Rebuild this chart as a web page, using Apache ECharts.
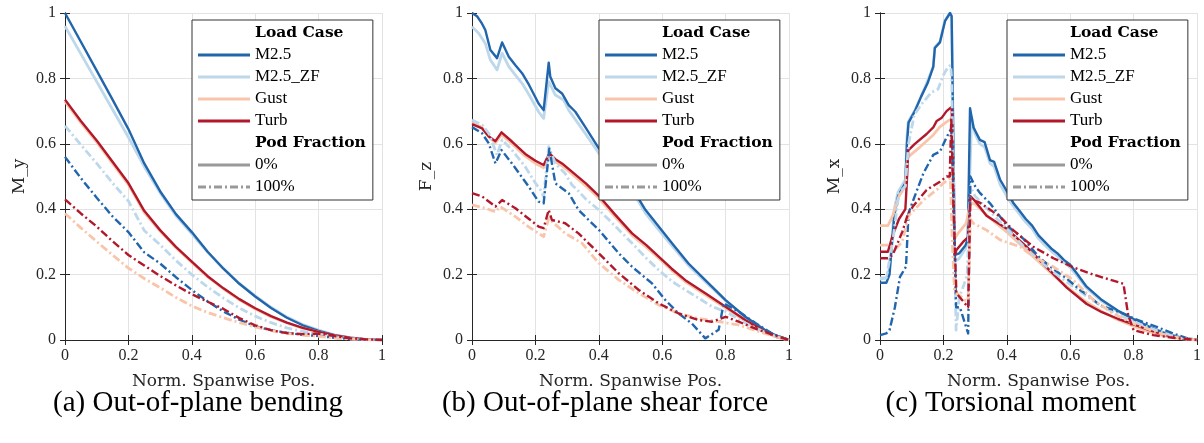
<!DOCTYPE html>
<html><head><meta charset="utf-8">
<script src="https://cdn.jsdelivr.net/npm/echarts@6/dist/echarts.min.js"></script>
<style>html,body{margin:0;padding:0;background:#fff}#c{width:1204px;height:443px}</style>
</head><body><div id="c"></div>
<script>
// ---------- data ----------
const loadCases = ['M2.5', 'M2.5_ZF', 'Gust', 'Turb'];
const podFractions = ['0%', '100%'];
const yNames = ['M_y', 'F_z', 'M_x'];
const xName = 'Norm. Spanwise Pos.';
const captions = ['(a) Out-of-plane bending', '(b) Out-of-plane shear force', '(c) Torsional moment'];

// panel (a): common x grid
const xsA = [0,0.05,0.1,0.15,0.2,0.25,0.3,0.35,0.4,0.45,0.5,0.55,0.6,0.65,0.7,0.75,0.8,0.85,0.9,0.95,1];
const a_M25_0   = [1.0,0.912,0.824,0.735,0.645,0.54,0.455,0.385,0.33,0.27,0.218,0.172,0.133,0.098,0.068,0.045,0.028,0.015,0.007,0.002,0];
const a_M25ZF_0 = [0.96,0.875,0.79,0.705,0.62,0.53,0.45,0.38,0.325,0.268,0.218,0.173,0.135,0.1,0.07,0.047,0.03,0.016,0.007,0.002,0];
const a_Gust_0  = [0.73,0.665,0.605,0.54,0.475,0.39,0.333,0.282,0.237,0.193,0.156,0.123,0.095,0.071,0.052,0.036,0.024,0.013,0.006,0.002,0];
const a_Turb_0  = [0.735,0.67,0.61,0.545,0.48,0.395,0.336,0.285,0.24,0.195,0.158,0.125,0.097,0.073,0.053,0.037,0.025,0.014,0.006,0.002,0];
const a_M25_100   = [0.56,0.495,0.435,0.378,0.33,0.268,0.234,0.192,0.153,0.118,0.087,0.062,0.042,0.03,0.022,0.016,0.012,0.007,0.003,0.001,0];
const a_M25ZF_100 = [0.655,0.597,0.54,0.48,0.425,0.335,0.291,0.243,0.2,0.162,0.128,0.098,0.073,0.053,0.037,0.026,0.018,0.01,0.004,0.001,0];
const a_Gust_100  = [0.387,0.343,0.301,0.26,0.22,0.188,0.16,0.13,0.104,0.084,0.068,0.053,0.04,0.029,0.02,0.015,0.011,0.006,0.003,0.001,0];
const a_Turb_100  = [0.43,0.387,0.347,0.302,0.26,0.228,0.196,0.167,0.14,0.117,0.095,0.067,0.045,0.03,0.021,0.018,0.02,0.012,0.005,0.002,0];

// panel (b): [x, y] pairs
const b_M25_0 = [[0,1.0],[0.016,0.99],[0.03,0.97],[0.042,0.948],[0.058,0.887],[0.079,0.862],[0.095,0.91],[0.116,0.866],[0.137,0.84],[0.158,0.816],[0.18,0.78],[0.21,0.723],[0.226,0.703],[0.242,0.848],[0.247,0.805],[0.263,0.77],[0.284,0.754],[0.305,0.718],[0.326,0.698],[0.357,0.652],[0.4,0.586],[0.45,0.525],[0.515,0.449],[0.547,0.398],[0.589,0.347],[0.631,0.296],[0.683,0.234],[0.736,0.183],[0.8,0.122],[0.862,0.071],[0.925,0.03],[0.96,0.013],[1,0]];
const b_M25ZF_0 = [[0,0.958],[0.021,0.938],[0.042,0.907],[0.058,0.856],[0.079,0.826],[0.095,0.877],[0.116,0.836],[0.137,0.81],[0.158,0.785],[0.18,0.75],[0.21,0.698],[0.226,0.678],[0.242,0.79],[0.263,0.749],[0.289,0.734],[0.305,0.703],[0.357,0.632],[0.4,0.571],[0.45,0.512],[0.515,0.44],[0.547,0.388],[0.589,0.337],[0.631,0.288],[0.683,0.228],[0.736,0.178],[0.8,0.12],[0.862,0.07],[0.925,0.03],[0.96,0.013],[1,0]];
const b_Gust_0 = [[0,0.665],[0.032,0.65],[0.053,0.622],[0.074,0.603],[0.093,0.628],[0.126,0.6],[0.168,0.562],[0.2,0.54],[0.226,0.527],[0.244,0.563],[0.263,0.545],[0.284,0.533],[0.315,0.508],[0.36,0.47],[0.4,0.434],[0.45,0.378],[0.505,0.32],[0.55,0.284],[0.589,0.25],[0.63,0.213],[0.673,0.178],[0.736,0.138],[0.8,0.098],[0.862,0.058],[0.925,0.023],[0.96,0.009],[1,0]];
const b_Turb_0 = [[0,0.66],[0.032,0.647],[0.053,0.622],[0.074,0.608],[0.093,0.635],[0.126,0.607],[0.168,0.569],[0.2,0.548],[0.226,0.535],[0.244,0.571],[0.263,0.553],[0.284,0.54],[0.315,0.515],[0.36,0.478],[0.4,0.441],[0.45,0.385],[0.505,0.326],[0.55,0.29],[0.589,0.255],[0.63,0.218],[0.673,0.183],[0.736,0.143],[0.8,0.102],[0.862,0.061],[0.925,0.025],[0.96,0.01],[1,0]];
const b_M25_100 = [[0,0.651],[0.032,0.632],[0.053,0.601],[0.074,0.54],[0.093,0.581],[0.126,0.54],[0.179,0.469],[0.21,0.423],[0.226,0.418],[0.244,0.585],[0.263,0.479],[0.305,0.449],[0.336,0.398],[0.37,0.365],[0.4,0.337],[0.463,0.265],[0.505,0.224],[0.568,0.173],[0.61,0.122],[0.652,0.081],[0.694,0.05],[0.736,0.005],[0.778,0.031],[0.794,0.112],[0.841,0.087],[0.894,0.052],[0.946,0.02],[1,0]];
const b_M25ZF_100 = [[0,0.673],[0.032,0.657],[0.053,0.632],[0.079,0.566],[0.095,0.612],[0.126,0.581],[0.168,0.53],[0.2,0.48],[0.216,0.459],[0.226,0.438],[0.242,0.591],[0.263,0.54],[0.294,0.509],[0.315,0.475],[0.336,0.455],[0.36,0.43],[0.4,0.398],[0.45,0.35],[0.505,0.296],[0.55,0.25],[0.589,0.214],[0.63,0.18],[0.673,0.153],[0.72,0.125],[0.757,0.102],[0.8,0.087],[0.862,0.052],[0.925,0.023],[0.96,0.01],[1,0]];
const b_Gust_100 = [[0,0.413],[0.042,0.403],[0.074,0.392],[0.089,0.408],[0.137,0.377],[0.18,0.345],[0.21,0.326],[0.226,0.316],[0.242,0.372],[0.294,0.326],[0.347,0.296],[0.4,0.235],[0.463,0.184],[0.526,0.143],[0.589,0.107],[0.652,0.081],[0.715,0.066],[0.778,0.056],[0.841,0.046],[0.904,0.026],[0.967,0.008],[1,0]];
const b_Turb_100 = [[0,0.449],[0.032,0.439],[0.074,0.408],[0.095,0.428],[0.137,0.403],[0.18,0.37],[0.21,0.347],[0.226,0.342],[0.242,0.398],[0.252,0.367],[0.294,0.357],[0.336,0.326],[0.4,0.265],[0.463,0.204],[0.526,0.153],[0.589,0.112],[0.652,0.081],[0.715,0.061],[0.757,0.056],[0.8,0.071],[0.841,0.056],[0.904,0.031],[0.967,0.01],[1,0]];

// panel (c): [x, y] pairs
const c_M25_0 = [[0,0.175],[0.02,0.175],[0.03,0.2],[0.045,0.38],[0.057,0.44],[0.08,0.48],[0.085,0.6],[0.09,0.665],[0.11,0.7],[0.13,0.745],[0.15,0.785],[0.168,0.835],[0.173,0.893],[0.189,0.91],[0.205,0.975],[0.221,1.0],[0.226,0.99],[0.236,0.26],[0.25,0.265],[0.27,0.29],[0.277,0.31],[0.284,0.709],[0.295,0.65],[0.315,0.612],[0.33,0.605],[0.347,0.55],[0.36,0.545],[0.379,0.49],[0.4,0.455],[0.42,0.42],[0.44,0.395],[0.46,0.37],[0.48,0.35],[0.5,0.32],[0.52,0.3],[0.54,0.28],[0.56,0.265],[0.58,0.245],[0.6,0.23],[0.62,0.205],[0.65,0.165],[0.7,0.122],[0.75,0.09],[0.8,0.064],[0.85,0.04],[0.9,0.02],[0.95,0.007],[1,0]];
const c_M25ZF_0 = [[0,0.19],[0.02,0.19],[0.03,0.22],[0.045,0.4],[0.057,0.453],[0.08,0.49],[0.085,0.62],[0.089,0.667],[0.11,0.703],[0.13,0.745],[0.147,0.785],[0.168,0.836],[0.173,0.896],[0.189,0.912],[0.205,0.978],[0.221,1.0],[0.226,0.99],[0.236,0.24],[0.25,0.25],[0.27,0.28],[0.277,0.3],[0.289,0.68],[0.3,0.63],[0.315,0.6],[0.33,0.59],[0.347,0.54],[0.36,0.53],[0.379,0.475],[0.4,0.44],[0.42,0.41],[0.44,0.385],[0.46,0.36],[0.48,0.34],[0.5,0.31],[0.52,0.29],[0.54,0.272],[0.56,0.256],[0.58,0.237],[0.6,0.222],[0.62,0.198],[0.65,0.16],[0.7,0.118],[0.75,0.087],[0.8,0.062],[0.85,0.04],[0.9,0.02],[0.95,0.007],[1,0]];
const c_Gust_0 = [[0,0.35],[0.025,0.35],[0.04,0.38],[0.06,0.44],[0.08,0.47],[0.085,0.54],[0.089,0.56],[0.126,0.59],[0.168,0.627],[0.189,0.652],[0.21,0.667],[0.226,0.677],[0.236,0.31],[0.246,0.326],[0.272,0.357],[0.285,0.42],[0.3,0.415],[0.35,0.37],[0.4,0.33],[0.45,0.285],[0.5,0.24],[0.55,0.195],[0.6,0.155],[0.65,0.117],[0.7,0.087],[0.75,0.062],[0.8,0.042],[0.85,0.025],[0.9,0.012],[0.95,0.004],[1,0]];
const c_Turb_0 = [[0,0.27],[0.025,0.27],[0.04,0.32],[0.06,0.37],[0.08,0.4],[0.085,0.49],[0.089,0.58],[0.11,0.6],[0.147,0.63],[0.168,0.65],[0.179,0.67],[0.195,0.68],[0.21,0.7],[0.226,0.713],[0.236,0.26],[0.241,0.275],[0.262,0.3],[0.278,0.315],[0.285,0.44],[0.3,0.425],[0.336,0.38],[0.4,0.34],[0.463,0.285],[0.526,0.222],[0.589,0.16],[0.652,0.11],[0.7,0.085],[0.75,0.065],[0.8,0.048],[0.85,0.03],[0.9,0.015],[0.95,0.005],[1,0]];
const c_M25_100 = [[0,0.015],[0.02,0.02],[0.03,0.03],[0.047,0.1],[0.063,0.193],[0.082,0.224],[0.09,0.388],[0.105,0.428],[0.137,0.51],[0.168,0.566],[0.189,0.576],[0.21,0.62],[0.224,0.645],[0.228,0.6],[0.24,0.1],[0.252,0.1],[0.278,0.02],[0.285,0.5],[0.3,0.47],[0.315,0.45],[0.347,0.418],[0.4,0.35],[0.452,0.31],[0.505,0.25],[0.55,0.215],[0.589,0.188],[0.631,0.153],[0.663,0.132],[0.694,0.106],[0.768,0.081],[0.8,0.066],[0.873,0.04],[0.925,0.02],[0.97,0.005],[1,0]];
const c_M25ZF_100 = [[0,0.185],[0.02,0.19],[0.04,0.3],[0.06,0.45],[0.08,0.47],[0.09,0.6],[0.108,0.688],[0.13,0.72],[0.162,0.757],[0.183,0.767],[0.2,0.81],[0.215,0.836],[0.223,0.84],[0.226,0.8],[0.24,0.03],[0.25,0.13],[0.265,0.17],[0.275,0.2],[0.285,0.47],[0.3,0.44],[0.35,0.39],[0.4,0.34],[0.45,0.29],[0.5,0.245],[0.55,0.205],[0.6,0.17],[0.65,0.135],[0.7,0.103],[0.75,0.078],[0.8,0.057],[0.85,0.037],[0.9,0.02],[0.95,0.007],[1,0]];
const c_Gust_100 = [[0,0.29],[0.03,0.29],[0.05,0.28],[0.07,0.3],[0.09,0.38],[0.1,0.39],[0.14,0.43],[0.18,0.46],[0.2,0.48],[0.222,0.495],[0.228,0.3],[0.235,0.15],[0.27,0.12],[0.278,0.12],[0.285,0.37],[0.294,0.357],[0.336,0.336],[0.379,0.306],[0.442,0.285],[0.484,0.255],[0.547,0.224],[0.61,0.183],[0.673,0.122],[0.736,0.081],[0.8,0.05],[0.883,0.02],[0.95,0.005],[1,0]];
const c_Turb_100 = [[0,0.25],[0.025,0.25],[0.04,0.26],[0.07,0.33],[0.088,0.385],[0.105,0.41],[0.147,0.459],[0.189,0.484],[0.21,0.5],[0.22,0.5],[0.225,0.68],[0.232,0.4],[0.241,0.143],[0.272,0.107],[0.278,0.1],[0.285,0.43],[0.315,0.42],[0.379,0.377],[0.42,0.336],[0.484,0.285],[0.547,0.25],[0.61,0.222],[0.673,0.2],[0.768,0.172],[0.783,0.075],[0.8,0.03],[0.862,0.015],[0.93,0.006],[1,0]];

// ---------- styling ----------
const COLORS = {'M2.5':'#2166ac','M2.5_ZF':'#bdd8eb','Gust':'#f9c5aa','Turb':'#b2182b','0%':'#999999','100%':'#999999'};
const WIDTHS = {'M2.5':2.4,'M2.5_ZF':2.8,'Gust':2.8,'Turb':2.4,'0%':2.8,'100%':2.8};
const DASH = [8,3,2,3];
const SERIF = '"Liberation Serif", "Times New Roman", serif';
const DSERIF = '"DejaVu Serif", serif';
const AX = '#262626';

const zipA = ys => xsA.map((x, i) => [x, ys[i]]);
const panels = [
  {'0%': {'M2.5':zipA(a_M25_0),'M2.5_ZF':zipA(a_M25ZF_0),'Gust':zipA(a_Gust_0),'Turb':zipA(a_Turb_0)},
   '100%': {'M2.5':zipA(a_M25_100),'M2.5_ZF':zipA(a_M25ZF_100),'Gust':zipA(a_Gust_100),'Turb':zipA(a_Turb_100)}},
  {'0%': {'M2.5':b_M25_0,'M2.5_ZF':b_M25ZF_0,'Gust':b_Gust_0,'Turb':b_Turb_0},
   '100%': {'M2.5':b_M25_100,'M2.5_ZF':b_M25ZF_100,'Gust':b_Gust_100,'Turb':b_Turb_100}},
  {'0%': {'M2.5':c_M25_0,'M2.5_ZF':c_M25ZF_0,'Gust':c_Gust_0,'Turb':c_Turb_0},
   '100%': {'M2.5':c_M25_100,'M2.5_ZF':c_M25ZF_100,'Gust':c_Gust_100,'Turb':c_Turb_100}}
];

const gridLefts = [65, 472, 880];
const gridW = 317, gridTop = 13, gridH = 327;

const grids = [], xAxes = [], yAxes = [], series = [], legends = [], graphics = [];
const drawOrder = ['M2.5_ZF','M2.5','Gust','Turb'];

function mkSeries(name, data, p, dashed) {
  return {
    type:'line', name, data, xAxisIndex:p*2, yAxisIndex:p*2,
    symbol:'none', showSymbol:false, silent:true, animation:false, clip:true,
    lineStyle:{color:COLORS[name], width:WIDTHS[name], type: dashed ? DASH : 'solid', cap:'butt', join:'round'},
    itemStyle:{color:COLORS[name]}
  };
}

// dummy series so legend entries exist
['Load Case','Pod Fraction'].forEach(n => series.push({type:'line', name:n, data:[], xAxisIndex:0, yAxisIndex:0, symbol:'none'}));
series.push(mkSeries('0%', [], 0, false));
series.push(mkSeries('100%', [], 0, true));
panels.forEach((pd, p) => {
  drawOrder.forEach(n => series.push(mkSeries(n, pd['0%'][n], p, false)));
});
panels.forEach((pd, p) => {
  drawOrder.forEach(n => series.push(mkSeries(n, pd['100%'][n], p, true)));
});

const labelStyle = {color:AX, fontFamily:SERIF, fontSize:16};
const lineS = {show:true, lineStyle:{color:AX, width:1}};
const tickS = {show:true, inside:true, length:5, lineStyle:{color:AX, width:1}};

// legend key entries (name, dashed?) in row order
const legendRows = [['Load Case',null], ['M2.5',false], ['M2.5_ZF',false], ['Gust',false], ['Turb',false], ['Pod Fraction',null], ['0%',false], ['100%',true]];
const LEG_TOP = 20, LEG_PAD_T = 4, LEG_PAD_L = 6, ROW = 22, ITEM_W = 52;

panels.forEach((pd, p) => {
  grids.push({left:gridLefts[p], top:gridTop, width:gridW, height:gridH, containLabel:false});
  xAxes.push({type:'value', gridIndex:p, min:0, max:1, interval:0.2, position:'bottom',
    axisLine:lineS, axisTick:tickS,
    axisLabel:{...labelStyle, margin:8, formatter: v => String(+v.toFixed(1))},
    splitLine:{show:true, lineStyle:{color:'#e3e3e3', width:1}},
    name:xName, nameLocation:'middle', nameGap:33,
    nameTextStyle:{color:AX, fontFamily:DSERIF, fontSize:17}});
  xAxes.push({type:'value', gridIndex:p, min:0, max:1, interval:0.2, position:'top',
    axisLine:lineS, axisTick:tickS, axisLabel:{show:false}, splitLine:{show:false}});
  yAxes.push({type:'value', gridIndex:p, min:0, max:1, interval:0.2, position:'left',
    axisLine:lineS, axisTick:tickS,
    axisLabel:{...labelStyle, margin:9, formatter: v => String(+v.toFixed(1))},
    splitLine:{show:true, lineStyle:{color:'#e3e3e3', width:1}},
    name:yNames[p], nameLocation:'middle', nameGap:37, nameRotate:90,
    nameTextStyle:{color:AX, fontFamily:DSERIF, fontSize:17}});
  yAxes.push({type:'value', gridIndex:p, min:0, max:1, interval:0.2, position:'right',
    axisLine:lineS, axisTick:tickS, axisLabel:{show:false}, splitLine:{show:false}});

  const legLeft = gridLefts[p] + 127;
  legends.push({
    orient:'vertical', left:legLeft, top:LEG_TOP,
    selectedMode:false, backgroundColor:'#fff', borderColor:'#333', borderWidth:1,
    padding:[LEG_PAD_T,7,LEG_PAD_T,LEG_PAD_L], itemWidth:ITEM_W, itemHeight:14, itemGap:ROW - 18,
    textStyle:{fontFamily:SERIF, fontSize:17, lineHeight:18, color:'#000'},
    data: legendRows.map(([n, d]) => d === null
      ? {name:n, icon:'none', textStyle:{fontWeight:'bold', fontFamily:DSERIF, fontSize:15.5, color:'#000'}}
      : {name:n, icon:'none'})
  });
  // key line samples drawn over the legend box
  legendRows.forEach(([n, d], i) => {
    if (d === null) return;
    const y = LEG_TOP + LEG_PAD_T + 9 + ROW * i;
    graphics.push({type:'line', z:100, silent:true,
      shape:{x1:legLeft + LEG_PAD_L, y1:y, x2:legLeft + LEG_PAD_L + ITEM_W, y2:y},
      style:{stroke:COLORS[n], lineWidth:3, lineDash: d ? DASH : null, lineCap:'butt'}});
  });

  graphics.push({type:'text', x:[198, 605, 1011][p], y:403, silent:true,
    style:{text:captions[p], textAlign:'center', textVerticalAlign:'middle',
      font:'29px "Liberation Serif"', fill:'#000'}});
});

const chart = echarts.init(document.getElementById('c'), null, {renderer:'canvas'});
chart.setOption({
  backgroundColor:'#fff', animation:false,
  grid:grids, xAxis:xAxes, yAxis:yAxes, series, legend:legends, graphic:graphics
});
</script>
</body></html>
